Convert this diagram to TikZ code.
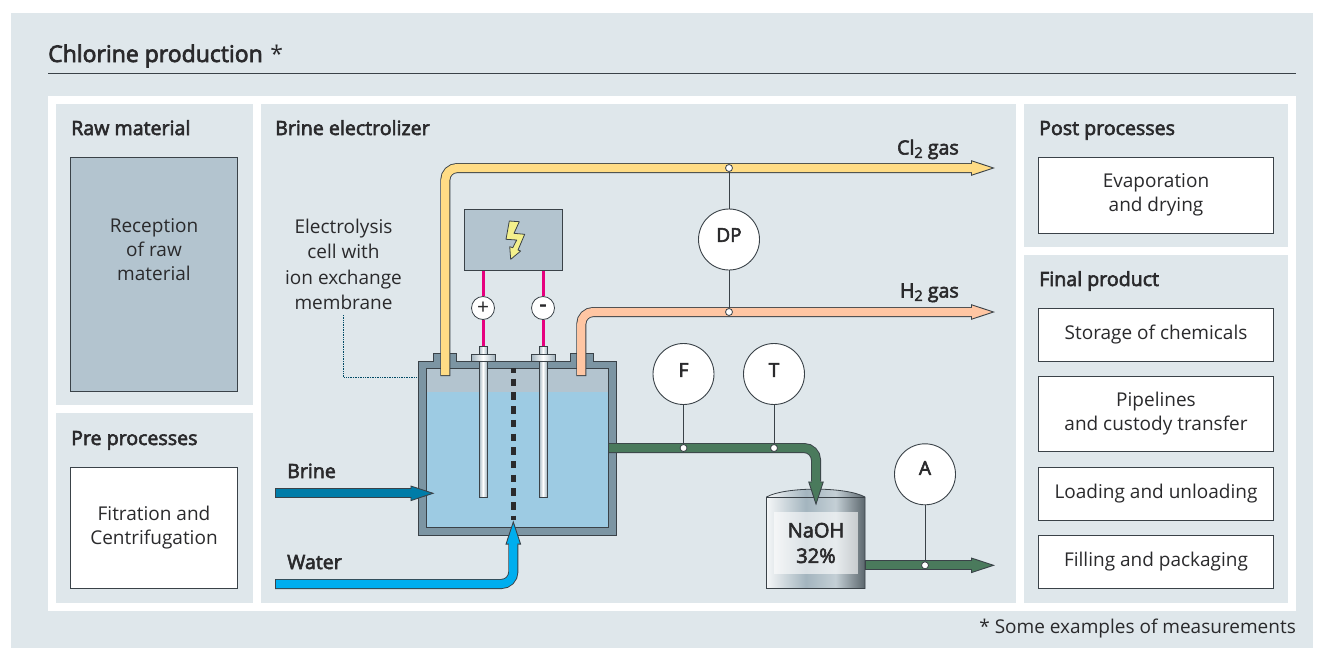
\documentclass[tikz,border=0pt]{standalone}
\usepackage{fontspec}
\setmainfont{Open Sans}
\newfontfamily\medf{Open Sans}[FakeBold=3]
\usetikzlibrary{arrows.meta}
\definecolor{bgc}{HTML}{DFE7EB}
\definecolor{ink}{HTML}{2A2A2C}
\definecolor{edge}{HTML}{3A4248}
\definecolor{steel}{HTML}{B3C4CF}
\definecolor{wall}{HTML}{7C95A3}
\definecolor{liquid}{HTML}{9DCBE3}
\definecolor{clc}{HTML}{FFDC85}
\definecolor{hc}{HTML}{FFC6A3}
\definecolor{boltc}{HTML}{F3F08C}
\definecolor{brinec}{HTML}{007CA8}
\definecolor{waterc}{HTML}{00AEEF}
\definecolor{naohc}{HTML}{4A7A5C}
\definecolor{pinkc}{HTML}{E6007E}
\pgfdeclarehorizontalshading{drumshade}{100bp}{color(0bp)=(wall!65!white);color(25bp)=(wall!8!white);color(45bp)=(wall!70!white);color(60bp)=(wall!45!white);color(80bp)=(wall!45!black);color(92bp)=(wall);color(100bp)=(wall!70!white)}
\pgfdeclarehorizontalshading{rodshade}{100bp}{color(0bp)=(wall!85!black);color(25bp)=(wall!70!white);color(50bp)=(white);color(75bp)=(wall!70!white);color(100bp)=(wall!85!black)}
\newcommand{\subtwo}{\raisebox{-0.32ex}{\fontsize{14.5}{14.5}\selectfont 2}}
\newcommand{\pipeline}[2]{%
  \draw[line width=10pt,draw=edge,rounded corners=12pt,-{Triangle[length=24pt,width=15.5pt,line width=.9pt,fill=#1]}] #2;
  \draw[line width=8.2pt,draw=#1,rounded corners=12pt,shorten >=22.5pt,shorten <=1pt] #2;}
\tikzset{
  panel/.style={fill=bgc,draw=none,inner sep=0pt,anchor=north west},
  whitebox/.style={fill=white,draw=edge,line width=.8pt,inner sep=0pt,minimum width=235pt,align=center,text=ink,font=\fontsize{19}{24}\selectfont},
  head/.style={font=\medf\fontsize{19.6}{24}\selectfont,text=ink,inner sep=0pt,anchor=base west},
  lab/.style={font=\fontsize{19}{25.5}\selectfont,text=ink,inner sep=0pt,align=center},
  meter/.style={circle,fill=white,draw=edge,line width=.9pt,minimum size=61pt,inner sep=0pt},
  metertxt/.style={font=\medf\fontsize{19}{24}\selectfont,text=ink,inner sep=0pt},
  junction/.style={circle,fill=white,draw=edge,line width=.8pt,minimum size=7pt,inner sep=0pt},
  sign/.style={circle,fill=white,draw=edge,line width=.8pt,minimum size=23pt,inner sep=0pt,text=ink,font=\fontsize{21}{21}\selectfont},
  tap/.style={draw=edge,line width=.9pt},
  wire/.style={draw=pinkc,line width=3pt},
  shell/.style={fill=wall,draw=edge,line width=.8pt},
  rod/.style={shading=rodshade,draw=edge,line width=.6pt},
}
\begin{document}
\begin{tikzpicture}[x=1pt,y=-1pt]
\useasboundingbox (0,0) rectangle (1324,648);
\fill[white] (0,0) rectangle (1324,648);
\fill[bgc] (11,13) rectangle (1313,648);
% title
\node[font=\medf\fontsize{23}{26}\selectfont,text=ink,inner sep=0pt,anchor=base west] (title) at (48,62) {Chlorine production\,\,{\normalfont\fontsize{23}{26}\selectfont *}};
\draw[draw=edge,line width=.8pt] (48,73.5) -- (1296,73.5);
\fill[white] (48,96) rectangle (1296,611);
% panels
\node[panel,minimum width=197pt,minimum height=301pt] (pRaw) at (56,104) {};
\node[panel,minimum width=197pt,minimum height=190pt] (pPre) at (56,413) {};
\node[panel,minimum width=755pt,minimum height=499pt] (pEl) at (261,104) {};
\node[panel,minimum width=264pt,minimum height=143pt] (pPost) at (1024,104) {};
\node[panel,minimum width=264pt,minimum height=348pt] (pFinal) at (1024,255) {};
% headings
\node[head] (hRaw) at (71,135) {Raw material};
\node[head] (hPre) at (71,445) {Pre processes};
\node[head] (hEl) at (275,135) {Brine electrolizer};
\node[head] (hPost) at (1039,135) {Post processes};
\node[head] (hFinal) at (1039,286) {Final product};
% boxes
\node[whitebox,fill=steel,minimum width=167pt,minimum height=234pt] (bRaw) at (154,274) {};
\node[lab,font=\fontsize{19}{24}\selectfont] (tRaw) at (154,250) {Reception\\of raw\\material};
\node[whitebox,minimum width=167pt,minimum height=121pt] (bFil) at (154,527.5) {Fitration and\\Centrifugation};
\node[whitebox,minimum height=76pt] (bEva) at (1156,195) {Evaporation\\and drying};
\node[whitebox,minimum height=53pt] (bSto) at (1156,334.5) {Storage of chemicals};
\node[whitebox,minimum height=75pt] (bPip) at (1156,413.5) {Pipelines\\and custody transfer};
\node[whitebox,minimum height=53pt] (bLoa) at (1156,493.5) {Loading and unloading};
\node[whitebox,minimum height=53pt] (bFil2) at (1156,561.5) {Filling and packaging};
% electrolysis label
\node[lab] (tCell) at (343.5,264.5) {Electrolysis\\cell with\\ion exchange\\membrane};
\coordinate (lblEnd) at (343.5,315);
\coordinate (lblCorner) at (343.5,377);
\coordinate (lblTank) at (418,377);
\draw[draw=brinec!60!black,line width=.7pt,densely dotted] (lblEnd) -- (lblCorner) -- (lblTank);
% electrolysis tank
\path[shell] (418,361) -- (433.5,361) -- (433.5,353.5) -- (456.5,353.5) -- (456.5,361) -- (570,361) -- (570,353.5) -- (593,353.5) -- (593,361) -- (616,361) -- (616,535) -- (418,535) -- cycle;
\fill[steel] (426,368) rectangle (608,392);
\fill[liquid] (426,391.5) rectangle (608,527);
\draw[draw=edge,line width=.7pt] (426,368) rectangle (608,527);
% membrane
\coordinate (memTop) at (513.3,368);
\coordinate (memBot) at (513.3,520);
\draw[draw=ink,line width=5pt,dash pattern=on 7.5pt off 6.2pt,dash phase=3pt] (memTop) -- (memBot);
% electrodes
\foreach \xe in {483,543}{
  \path[rod] (\xe-4,361) rectangle (\xe+4,497);
  \path[rod] (\xe-4,346) rectangle (\xe+4,354);
  \path[rod] (\xe-12,354) rectangle (\xe+12,361);
}
% power supply
\node[fill=steel,draw=edge,line width=.9pt,minimum width=98.5pt,minimum height=61.5pt,inner sep=0pt] (power) at (513.5,240) {};
\fill[boltc,draw=edge,line width=.8pt,line join=round] (509.3,221) -- (519.3,221.7) -- (514,233.3) -- (524.7,234.3) -- (518,250) -- (520.7,251) -- (510.7,259.3) -- (509.7,246.7) -- (512.7,247.7) -- (516.7,240) -- (506,239.3) -- cycle;
\node[sign] (plus) at (483,308) {+};
\node[sign,font=\medf\fontsize{21}{21}\selectfont] (minus) at (543,308) {-};
\coordinate (rodA) at (483,346);
\coordinate (rodB) at (543,346);
\draw[wire] (plus |- power.south) -- (plus);
\draw[wire] (minus |- power.south) -- (minus);
\draw[wire] (plus) -- (rodA);
\draw[wire] (minus) -- (rodB);
% pipes
\coordinate (clA) at (445.3,376);
\coordinate (clB) at (445.3,168);
\coordinate (clC) at (995,168);
\pipeline{clc}{(clA) -- (clB) -- (clC)}
\coordinate (hA) at (581.3,376);
\coordinate (hB) at (581.3,312);
\coordinate (hC) at (995,312);
\pipeline{hc}{(hA) -- (hB) -- (hC)}
\coordinate (brA) at (275,493.3);
\coordinate (brC) at (434.5,493.3);
\pipeline{brinec}{(brA) -- (brC)}
\coordinate (waA) at (275,584);
\coordinate (waB) at (513.3,584);
\coordinate (waC) at (513.3,520.5);
\pipeline{waterc}{(waA) -- (waB) -- (waC)}
% drum
\path[shading=drumshade,draw=edge,line width=.8pt] (766.5,497) .. controls (785,486.5) and (846,486.5) .. (865,497) -- (865,588.5) -- (766.5,588.5) -- cycle;
\draw[draw=edge,line width=.8pt] (766.5,497) -- (865,497);
\node[fill=white,fill opacity=.6,text opacity=1,minimum width=84pt,minimum height=62pt,inner sep=0pt,align=center,text=ink,font=\medf\fontsize{20}{25.5}\selectfont] (naoh) at (816,543) {NaOH\\32\%};
\coordinate (naA) at (608,448);
\coordinate (naB) at (816,448);
\coordinate (naC) at (816,505.5);
\pipeline{naohc}{(naA) -- (naB) -- (naC)}
\coordinate (outA) at (865,565.3);
\coordinate (outC) at (995,565.3);
\pipeline{naohc}{(outA) -- (outC)}
% measurements
\node[junction] (jDPa) at (729,168) {};
\node[junction] (jDPb) at (729,312) {};
\node[junction] (jF) at (683.5,448) {};
\node[junction] (jT) at (774,448) {};
\node[junction] (jA) at (925,565.3) {};
\node[meter] (mDP) at (729,239.5) {};
\node[meter] (mF) at (683.5,374) {};
\node[meter] (mT) at (774,374) {};
\node[meter] (mA) at (925,474.3) {};
\draw[tap] (jDPa) -- (mDP);
\draw[tap] (mDP) -- (jDPb);
\draw[tap] (mF) -- (jF);
\draw[tap] (mT) -- (jT);
\draw[tap] (mA) -- (jA);
\node[metertxt] (tDP) at (729,235) {DP};
\node[metertxt] (tF) at (683.5,370) {F};
\node[metertxt] (tT) at (774,370) {T};
\node[metertxt] (tA) at (925,468) {A};
% stream labels
\node[head,anchor=base east] (tCl) at (959,154.5) {Cl\subtwo{} gas};
\node[head,anchor=base east] (tH) at (959,297.5) {H\subtwo{} gas};
\node[head] (tBrine) at (287,478) {Brine};
\node[head] (tWater) at (287,569) {Water};
% footnote
\node[font=\fontsize{19}{24}\selectfont,text=ink,inner sep=0pt,anchor=base east] (foot) at (1296,633) {* Some examples of measurements};
\end{tikzpicture}
\end{document}
